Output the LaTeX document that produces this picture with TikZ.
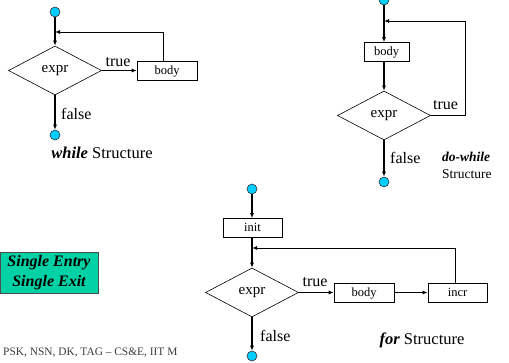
\documentclass[tikz,border=0pt]{standalone}
\usepackage{fontspec}
\setmainfont{Liberation Serif}
\usetikzlibrary{arrows.meta,shapes.geometric}
\definecolor{termfill}{RGB}{0,204,255}
\definecolor{notefill}{RGB}{0,210,165}
\definecolor{footgray}{RGB}{60,60,60}
\tikzset{
  term/.style={circle,draw=black!80,fill=termfill,line width=0.6pt,minimum size=10pt,inner sep=0pt},
  cond/.style={diamond,draw,line width=0.6pt,inner sep=0pt,minimum width=93pt,minimum height=49pt,aspect=1.9,font=\fontsize{15}{15}\selectfont},
  stepbox/.style={rectangle,draw,line width=0.6pt,minimum width=60pt,minimum height=19pt,inner sep=0pt,font=\fontsize{12.5}{12.5}\selectfont,text depth=0pt,text height=8pt},
  flow/.style={line width=1.6pt,-{Latex[length=5pt,width=4pt]}},
  back/.style={line width=0.9pt,-{Latex[length=5pt,width=4pt]}},
  lbl/.style={inner sep=0pt,font=\fontsize{16}{16}\selectfont},
  captext/.style={inner sep=0pt,font=\fontsize{16.5}{18}\selectfont,align=left},
}
\begin{document}
\begin{tikzpicture}[x=1pt,y=-1pt]
\useasboundingbox (0,0) rectangle (509,363);
% while loop
\node[term] (w0) at (55,12) {};
\node[cond] (we) at (55,70.5) {expr};
\node[stepbox] (wb) at (167,70.5) {body};
\node[term] (w1) at (55,135) {};
\coordinate (wj) at (55,32);
\draw[flow] (w0) -- (we.north);
\draw[flow] (we.east) -- (wb.west);
\draw[flow] (we.south) -- (w1);
\draw[back] (wb.north -| 163,0) |- (wj);
\node[lbl,anchor=base] at (118,67) {true};
\node[lbl,anchor=base west] at (61,120) {false};
\node[captext,anchor=base] at (102,159) {\textbf{\textit{while}} Structure};
% do-while loop
\node[term] (d0) at (384,0) {};
\node[stepbox,minimum width=45pt] (db) at (386.5,52) {body};
\node[cond] (de) at (384,115.5) {expr};
\node[term] (d1) at (384,182) {};
\coordinate (dj) at (384,21);
\coordinate (dr) at (465,115.5);
\draw[flow] (d0) -- (db.north -| d0);
\draw[flow] (db.south -| d0) -- (de.north);
\draw[flow] (de.south) -- (d1);
\draw[back] (de.east) -- (dr) |- (dj);
\node[lbl,anchor=base west] at (433,110) {true};
\node[lbl,anchor=base west] at (390,164) {false};
\node[captext,anchor=west,font=\fontsize{13.5}{17}\selectfont] at (442,165) {\textbf{\textit{do-while}}\\Structure};
% for loop
\node[term] (f0) at (252,189) {};
\node[stepbox,minimum width=59pt] (fi) at (252.5,228) {init};
\node[cond] (fe) at (252,292.5) {expr};
\node[stepbox] (fb) at (364,292.5) {body};
\node[stepbox,minimum width=59pt] (fc) at (457.5,292.5) {incr};
\node[term] (f1) at (252,356) {};
\coordinate (fj) at (252,248);
\draw[flow] (f0) -- (fi.north -| f0);
\draw[flow] (fi.south -| f0) -- (fe.north);
\draw[flow] (fe.east) -- (fb.west);
\draw[flow] (fb.east) -- (fc.west);
\draw[flow] (fe.south) -- (f1);
\draw[back] (fc.north -| 455,0) |- (fj);
\node[lbl,anchor=base] at (315,287) {true};
\node[lbl,anchor=base west] at (260,342) {false};
\node[captext,anchor=base] at (422,345) {\textbf{\textit{for}} Structure};
% note box and footer
\node[rectangle,draw=black!70,line width=0.8pt,fill=notefill,minimum width=98pt,minimum height=41pt,inner sep=0pt,align=center,font=\fontsize{16}{20}\selectfont\bfseries\itshape] (note) at (49,272.5) {Single Entry\\Single Exit};
\node[anchor=base west,inner sep=0pt,text=footgray,font=\fontsize{11.4}{12}\selectfont] (foot) at (3,356) {PSK, NSN, DK, TAG -- CS\&E, IIT M};
\end{tikzpicture}
\end{document}
